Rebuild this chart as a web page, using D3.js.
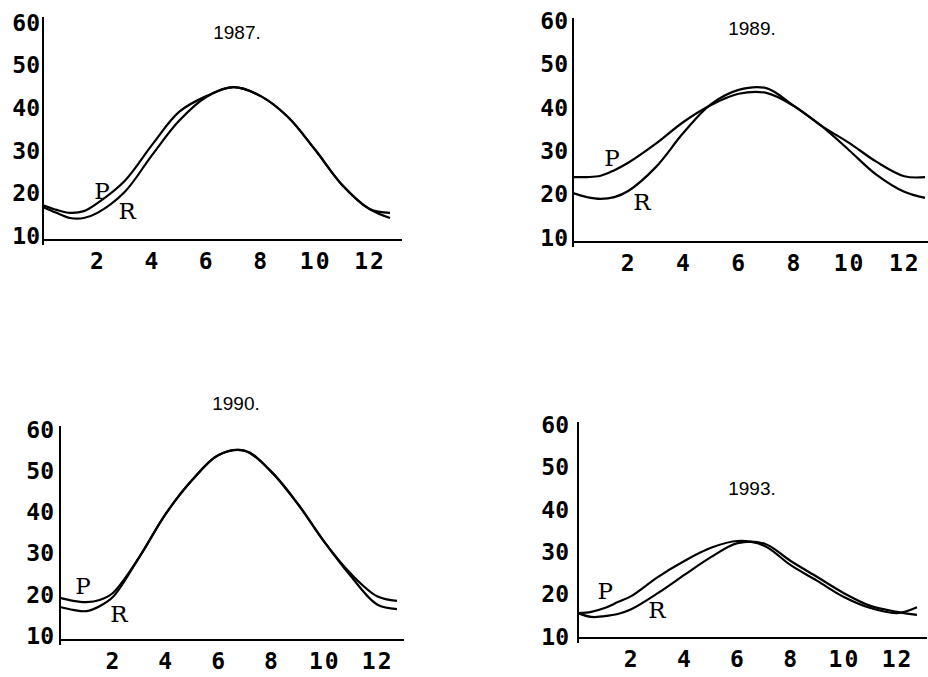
<!DOCTYPE html>
<html>
<head>
<meta charset="utf-8">
<script src="https://cdn.jsdelivr.net/npm/d3@7"></script>
<style>
	body { margin: 0; background: #fff; }
	svg { display: block; }
</style>
</head>
<body>
<svg width="928" height="677"></svg>
<script>
// months along the x axis, shared by every curve
const months = [0, 0.5, 1, 1.5, 2, 3, 4, 5, 6, 7, 8, 9, 10, 11, 12, 12.75];

const years = ['1987.', '1989.', '1990.', '1993.'];

const p1987 = [17.0, 15.9, 15.2, 15.6, 17.5, 22.7, 31.1, 38.9, 42.6, 44.7, 42.6, 37.7, 30.0, 21.7, 16.1, 15.2];
const r1987 = [16.6, 15.2, 14.0, 14.0, 15.2, 20.1, 28.7, 36.8, 42.4, 44.7, 42.6, 37.7, 30.0, 21.7, 16.1, 14.0];

const p1989 = [23.8, 23.8, 24.1, 25.4, 27.1, 31.5, 36.5, 40.4, 43.0, 43.2, 40.2, 35.6, 31.7, 27.3, 24.0, 23.8];
const r1989 = [20.1, 19.2, 18.8, 19.2, 20.6, 26.1, 34.0, 40.6, 43.9, 44.3, 40.2, 35.6, 30.0, 24.3, 20.4, 19.0];

const p1990 = [19.0, 18.3, 18.0, 18.5, 20.2, 28.9, 39.4, 47.6, 53.7, 54.7, 49.6, 41.8, 32.6, 24.9, 19.4, 18.3];
const r1990 = [16.8, 16.1, 15.8, 17.0, 19.2, 28.9, 39.4, 47.6, 53.7, 54.7, 49.6, 41.8, 32.6, 24.3, 17.4, 16.3];

const p1993 = [15.4, 15.7, 16.6, 18.0, 19.4, 23.9, 27.7, 30.8, 32.4, 31.3, 26.7, 23.0, 19.2, 16.6, 15.4, 16.8];
const r1993 = [15.4, 14.5, 14.7, 15.2, 16.3, 20.1, 24.4, 28.6, 31.9, 31.8, 27.7, 23.9, 20.1, 17.1, 15.7, 15.0];

const yTicks = [10, 20, 30, 40, 50, 60];
const xTicks = [2, 4, 6, 8, 10, 12];

// page layout of each small chart (pixels), plus where the P / R letters sit (data units)
const panels = [
	{ title: years[0], p: p1987, r: r1987, left: 43, right: 390, axisEnd: 402, base: 240, top: 17, y10: 235, y60: 22,
		titleX: 237, titleY: 32, yPad: 3, pAt: [2.17, 20.3], rAt: [3.09, 15.6] },
	{ title: years[1], p: p1989, r: r1989, left: 573, right: 925, axisEnd: 928, base: 242, top: 18, y10: 237, y60: 20,
		titleX: 752, titleY: 28, yPad: 5, pAt: [1.41, 28.2], rAt: [2.5, 18.1] },
	{ title: years[2], p: p1990, r: r1990, left: 60, right: 397, axisEnd: 404, base: 640, top: 426, y10: 635, y60: 429,
		titleX: 236, titleY: 403, yPad: 6, pAt: [0.87, 21.9], rAt: [2.23, 15.1] },
	{ title: years[3], p: p1993, r: r1993, left: 578, right: 917, axisEnd: 927, base: 638, top: 422, y10: 636, y60: 424,
		titleX: 752, titleY: 488, yPad: 9, pAt: [1.02, 20.6], rAt: [2.97, 16.1] },
];

const svg = d3.select('svg');
svg.append('rect').attr('width', 928).attr('height', 677).attr('fill', '#fff');

panels.forEach(cfg => {
	const g = svg.append('g');

	const x = d3.scaleLinear()
		.domain([0, d3.max(months)])
		.range([cfg.left, cfg.right]);

	const y = d3.scaleLinear()
		.domain([10, 60])
		.range([cfg.y10, cfg.y60]);

	// axis lines
	g.append('line')
		.attr('x1', cfg.left).attr('x2', cfg.left)
		.attr('y1', cfg.top).attr('y2', cfg.base + 5)
		.attr('stroke', '#000').attr('stroke-width', 2);
	g.append('line')
		.attr('x1', cfg.left).attr('x2', cfg.axisEnd)
		.attr('y1', cfg.base).attr('y2', cfg.base)
		.attr('stroke', '#000').attr('stroke-width', 2);

	const yAxis = g.append('g')
		.attr('transform', `translate(${cfg.left},0)`)
		.call(d3.axisLeft(y).tickValues(yTicks).tickSize(0).tickPadding(cfg.yPad));

	const xAxis = g.append('g')
		.attr('transform', `translate(0,${cfg.base})`)
		.call(d3.axisBottom(x).tickValues(xTicks).tickSize(0).tickPadding(13));

	[yAxis, xAxis].forEach(a => {
		a.select('.domain').remove();
		a.selectAll('text')
			.attr('fill', '#000')
			.attr('font-family', '"DejaVu Sans Mono", monospace')
			.attr('font-weight', 700);
	});
	yAxis.selectAll('text').attr('font-size', 23).attr('dy', '0.36em');
	xAxis.selectAll('text').attr('font-size', 23).attr('letter-spacing', 2);

	const line = d3.line()
		.x((d, i) => x(months[i]))
		.y(d => y(d))
		.curve(d3.curveCatmullRom.alpha(0.5));

	g.selectAll('path.series')
		.data([cfg.p, cfg.r])
		.enter()
		.append('path')
		.attr('class', 'series')
		.attr('d', line)
		.attr('fill', 'none')
		.attr('stroke', '#000')
		.attr('stroke-width', 2.2);

	g.selectAll('text.tag')
		.data([['P', cfg.pAt], ['R', cfg.rAt]])
		.enter()
		.append('text')
		.attr('class', 'tag')
		.text(d => d[0])
		.attr('x', d => x(d[1][0]))
		.attr('y', d => y(d[1][1]))
		.attr('dy', '0.36em')
		.attr('text-anchor', 'middle')
		.attr('font-family', '"DejaVu Serif", serif')
		.attr('font-size', 23)
		.attr('fill', '#000');

	g.append('text')
		.text(cfg.title)
		.attr('x', cfg.titleX)
		.attr('y', cfg.titleY)
		.attr('dy', '0.35em')
		.attr('text-anchor', 'middle')
		.attr('font-family', '"Liberation Sans", Arial, sans-serif')
		.attr('font-size', 19)
		.attr('fill', '#000');
});
</script>
</body>
</html>
